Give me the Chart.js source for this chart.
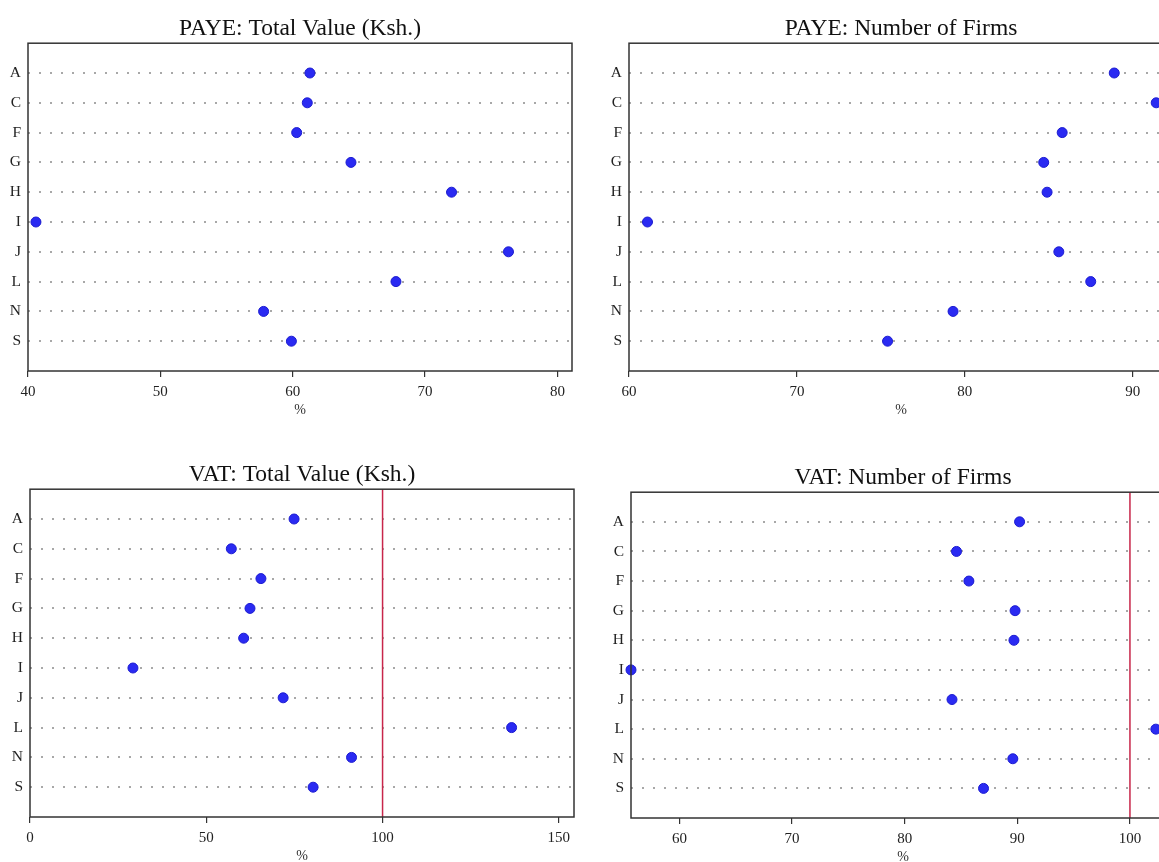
<!DOCTYPE html>
<html>
<head>
<meta charset="utf-8">
<script src="https://cdn.jsdelivr.net/npm/chart.js@4"></script>
<style>
  html, body { margin: 0; padding: 0; background: #fff; overflow: hidden; }
  body { width: 1159px; height: 862px; position: relative; }
  canvas { position: absolute; }
</style>
</head>
<body>
<canvas id="payeValue" width="578" height="421" style="left:0px;top:0px"></canvas>
<canvas id="payeFirms" width="578" height="421" style="left:601px;top:0px"></canvas>
<canvas id="vatValue" width="578" height="421" style="left:2px;top:446px"></canvas>
<canvas id="vatFirms" width="578" height="419" style="left:603px;top:449px"></canvas>
<script>
// sectors (top to bottom)
const sectors = ['A', 'C', 'F', 'G', 'H', 'I', 'J', 'L', 'N', 'S'];

// percentages
const payeValue = [61.3, 61.1, 60.3, 64.4, 72.0, 40.6, 76.3, 67.8, 57.8, 59.9];
const payeFirms = [88.9, 91.4, 85.8, 84.7, 84.9, 61.1, 85.6, 87.5, 79.3, 75.4];
const vatValue  = [74.9, 57.1, 65.5, 62.4, 60.6, 29.2, 71.8, 136.6, 91.2, 80.3];
const vatFirms  = [90.2, 84.6, 85.7, 89.8, 89.7, 55.7, 84.2, 102.3, 89.6, 87.0];

// x tick values per panel
const payeValueTicks = [40, 50, 60, 70, 80];
const payeFirmsTicks = [60, 70, 80, 90];
const vatValueTicks  = [0, 50, 100, 150];
const vatFirmsTicks  = [60, 70, 80, 90, 100];

const refLine = 100;

const serif = "'Liberation Serif', 'DejaVu Serif', serif";

// box around the plot area
const frame = {
    id: 'frame',
    afterDraw(chart) {
        const a = chart.chartArea, ctx = chart.ctx;
        ctx.save();
        ctx.strokeStyle = '#333';
        ctx.lineWidth = 1.5;
        ctx.strokeRect(a.left, a.top, a.right - a.left, a.bottom - a.top);
        ctx.restore();
    }
};

function dotChart(id, title, values, ticks, xmin, xmax, withRef) {
    const datasets = [{
        data: values.map((v, i) => ({ x: v, y: i + 1 })),
        backgroundColor: '#2a2af2',
        borderColor: '#1c1cd0',
        borderWidth: 1,
        pointRadius: 5,
        pointHoverRadius: 5
    }];
    if (withRef) {
        datasets.push({
            type: 'line',
            data: [{ x: refLine, y: 0 }, { x: refLine, y: sectors.length + 1 }],
            borderColor: '#c8264a',
            borderWidth: 1.5,
            pointRadius: 0,
            showLine: true
        });
    }
    new Chart(document.getElementById(id), {
        type: 'scatter',
        data: { datasets },
        plugins: [frame],
        options: {
            responsive: false,
            animation: false,
            clip: false,
            layout: { padding: 0 },
            plugins: {
                legend: { display: false },
                tooltip: { enabled: false },
                title: {
                    display: true,
                    fullSize: false,
                    text: title,
                    color: '#111',
                    font: { family: serif, size: 23.5, weight: 'normal' },
                    padding: { top: 15, bottom: 0 }
                }
            },
            scales: {
                x: {
                    type: 'linear',
                    min: xmin,
                    max: xmax,
                    afterBuildTicks: s => { s.ticks = ticks.map(v => ({ value: v })); },
                    afterFit: s => { s.height = 50; },
                    grid: { drawOnChartArea: false, drawTicks: true, tickLength: 6, tickColor: '#333', lineWidth: 1.2 },
                    border: { display: false },
                    ticks: { color: '#222', padding: 6, maxRotation: 0, font: { family: serif, size: 15 } },
                    title: { display: true, text: '%', color: '#333', font: { family: serif, size: 14 }, padding: { top: 0, bottom: 2 } }
                },
                y: {
                    type: 'linear',
                    min: 0,
                    max: sectors.length + 1,
                    reverse: true,
                    afterBuildTicks: s => {
                        s.ticks = [];
                        for (let i = 0; i <= sectors.length + 1; i++) s.ticks.push({ value: i });
                    },
                    afterFit: s => { s.width = 28; },
                    grid: {
                        drawTicks: false,
                        lineWidth: 2,
                        color: c => (c.tick && c.tick.value >= 1 && c.tick.value <= sectors.length) ? '#a8a8a8' : 'rgba(0,0,0,0)'
                    },
                    border: { display: false, dash: [2, 9] },
                    ticks: {
                        color: '#222',
                        padding: 7,
                        font: { family: serif, size: 15.5 },
                        callback: v => sectors[v - 1] || ''
                    }
                }
            }
        }
    });
}

dotChart('payeValue', 'PAYE: Total Value (Ksh.)', payeValue, payeValueTicks, 40, 81.1, false);
dotChart('payeFirms', 'PAYE: Number of Firms', payeFirms, payeFirmsTicks, 60, 92.4, false);
dotChart('vatValue', 'VAT: Total Value (Ksh.)', vatValue, vatValueTicks, 0, 154.3, true);
dotChart('vatFirms', 'VAT: Number of Firms', vatFirms, vatFirmsTicks, 55.7, 104.0, true);
</script>
</body>
</html>
